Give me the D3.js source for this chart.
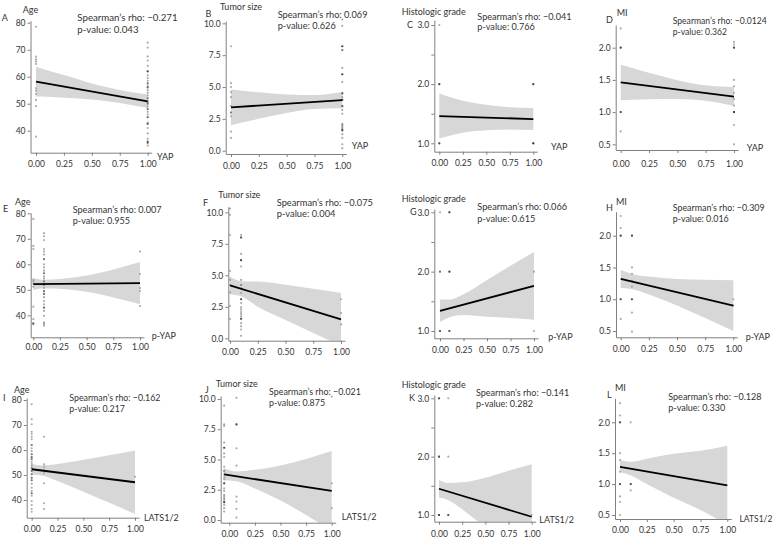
<!DOCTYPE html>
<html><head><meta charset="utf-8">
<script src="https://cdn.jsdelivr.net/npm/d3@7"></script>
<style>
body{margin:0;background:#fff}
svg{display:block}
text{font-family:Lato,"Open Sans",sans-serif}
</style>
</head><body>
<svg id="c" width="773" height="546"></svg>
<script>
// ---------------- DATA ----------------
const panelLetters = ["A","B","C","D","E","F","G","H","I","J","K","L"];
const outcomeTitles = ["Age","Tumor size","Histologic grade","MI","Age","Tumor size","Histologic grade","MI","Age","Tumor size","Histologic grade","MI"];
const predictorTitles = ["YAP","YAP","YAP","YAP","p-YAP","","p-YAP","p-YAP","LATS1/2","LATS1/2","LATS1/2","LATS1/2"];
const rhoValues = ["\u22120.271","0.069","\u22120.041","\u22120.0124","0.007","\u22120.075","0.066","\u22120.309","\u22120.162","\u22120.021","\u22120.141","\u22120.128"];
const pValues = ["0.043","0.626","0.766","0.362","0.955","0.004","0.615","0.016","0.217","0.875","0.282","0.330"];

const xTicks = [0, 0.25, 0.5, 0.75, 1];
const ageTicks = [40, 50, 60, 70, 80];
const sizeTicks = [0, 2.5, 5, 7.5, 10];
const gradeTicks = [1, 1.5, 2, 2.5, 3];
const gradeLabelled = [1, 2, 3];
const miTicks = [0.5, 1, 1.5, 2];

const bandX = [0, 0.1, 0.25, 0.5, 0.75, 1];
const bandXJ = [-0.05, 0.07, 0.25, 0.5, 0.75, 1];

// points: [x, [y values]]  (repeated values = overlapping points)
const pointsA = [[0,[78.5,67.4,66.4,65.6,64.7,55.7,54.8,53.6,51.4,49.1,37.8]],
  [1,[72.6,70.8,67.5,66,64,62,62,62,60.5,59.5,58.5,57.5,57.5,56.5,56,56,55,54,53,52,52,51,50.5,50,50,49,48,48,47,46,45,45,43,42.5,42.5,41,39,37,36,36,35.5,35.5,34.5]]];
const pointsB = [[0,[8.2,5.3,5.0,4.6,4.2,3.5,3.0,3.0,2.7,1.5,1.0]],
  [1,[10.3,9.8,8.2,8.2,8.2,7.9,7.9,6.5,6.0,6.0,6.0,5.4,4.5,4.5,4.5,4.2,4.0,4.0,4.0,3.5,3.5,3.5,3.2,2.9,2.1,2.0,1.9,1.8,1.7,1.6,1.6,1.6,1.3,1.0,0.5,0.2]]];
const pointsC = [[0,[3,2,2,2,1,1,1]],[1,[2,2,2,1,1,1,1]]];
const pointsD = [[0,[2.3,2,2,2,1,1,1,0.7]],[1,[2.09,2.05,2,2,2,1.5,1.4,1.3,1.2,1.1,1,1,1,1,0.8,0.5]]];
const pointsE = [[0,[77.8,67.2,66,54,53.4,52.5,51.2,43.4,38.5,36.8,36.8,36.5]],
  [0.1,[72.2,71,69.5,66,65,63.8,62,62,60,58.8,57.5,56.5,56.5,55.3,54.4,53.3,53.3,52,52,52,50.7,49.5,49.5,48.4,48.4,47.1,45.6,44.3,43,43,41.7,39.8,37.2,36.6,35.9]],
  [1,[65,56.2,50.7,49.5,43.6]]];
const pointsF = [[0,[10.3,9.8,8.2,5.34,4.63,4.23,3.65,2.56,1.53]],
  [0.1,[8.2,8.0,8.0,8.0,6.7,6.2,6.2,6.2,5.7,4.63,4.23,4.23,3.97,3.6,3.1,3.1,3.1,2.8,2.45,2.27,2.08,1.92,1.74,1.55,1.55,1.55,1.2,0.95,0.7,0.2]],
  [1,[3.1,2.0,1.1]]];
const pointsG = [[0,[3,2,2,1,1,1]],[0.1,[3,3,3,2,2,2,1,1,1]],[1,[2,1]]];
const pointsH = [[0,[2.31,2.12,2,2,2,1,1,1,0.69]],[0.1,[2,2,2,1.5,1.4,1.29,1.2,1,1,1,0.79,0.49]],[1,[1,0.9]]];
const pointsI = [[0,[78.3,72.3,70.3,67.3,66.4,65.3,64.3,62,62,60.7,59.6,58.3,58.3,57.2,57.2,56.4,56.4,55.3,54.4,53.6,52.7,52.7,51.6,51.6,50.3,50.3,48.9,48.9,47.9,47.9,46.5,44.9,43.6,42.7,42.7,41.7,39.6,38,36.4,35.3]],
  [0.12,[65.3,54.3,53.3,52,50.7,46.7,38.7,36.4]],[1,[49.3]]];
const pointsJ = [[-0.05,[9.45,7.9,7.77,6.4,5.97,5.97,5.97,5.5,5.2,4.4,4.1,4.0,3.77,3.53,3.36,3.03,3.03,3.03,2.62,2.4,2.07,1.93,1.79,1.66,1.47,1.47,1.47,1.25,0.98,0.7]],
  [0.07,[10.1,7.9,7.9,7.9,5.92,4.49,1.93,1.52,0.92,0.2]],[1,[10.2,3.03,0.98]]];
const pointsK = [[0,[3,3,3,2,2,2,1,1,1,1]],[0.1,[3,2,1,1,1]],[1,[1]]];
const pointsL = [[0,[2.31,2.11,2,2,2,1.5,1.39,1.2,1,1,1,0.8,0.71,0.5]],[0.1,[2,1,1,1,0.9]]];

// fitted line endpoints (at first and last band x) and confidence band
const fitA = [58.2, 50.9],  upperA = [63.7,62.4,60.6,57.5,55.1,53.4],  lowerA = [52.7,52.6,52.2,51.6,50.3,48.4];
const fitB = [3.4, 3.97],   upperB = [4.80,4.71,4.58,4.42,4.38,4.61],  lowerB = [2.0,2.21,2.5,2.96,3.28,3.33];
const fitC = [1.46, 1.41],  upperC = [1.84,1.785,1.72,1.65,1.61,1.595], lowerC = [1.08,1.125,1.18,1.22,1.235,1.225];
const fitD = [1.46, 1.24],  upperD = [1.735,1.686,1.61,1.496,1.415,1.386], lowerD = [1.185,1.19,1.2,1.204,1.175,1.094];
const fitE = [52.2, 52.6],  upperE = [54.5,53.9,54.2,55.6,58.0,60.9],  lowerE = [49.9,50.6,50.4,49.2,47.0,44.3];
const fitF = [4.2, 1.5],    upperF = [4.9,4.53,4.5,4.25,3.93,3.6],     lowerF = [3.5,3.33,2.5,1.45,0.43,-0.6];
const fitG = [1.34, 1.76],  upperG = [1.53,1.53,1.62,1.86,2.1,2.33],   lowerG = [1.15,1.23,1.27,1.24,1.22,1.19];
const fitH = [1.32, 0.90],  upperH = [1.465,1.398,1.356,1.318,1.305,1.30], lowerH = [1.175,1.158,1.074,0.902,0.705,0.50];
const fitI = [52.3, 47.1],  upperI = [54.5,53.8,54.4,56.1,57.9,59.8],  lowerI = [50.1,49.8,47.6,43.3,38.9,34.4];
const fitJ = [3.77, 2.40],  upperJ = [4.25,4.01,4.15,4.51,5.05,5.7],   lowerJ = [3.29,3.21,2.61,1.61,0.41,-0.9];
const fitK = [1.45, 0.97],  upperK = [1.60,1.55,1.56,1.64,1.76,1.87],  lowerK = [1.30,1.254,1.10,0.78,0.42,0.07];
const fitL = [1.28, 0.98],  upperL = [1.39,1.36,1.41,1.49,1.54,1.62],  lowerL = [1.19,1.14,1.00,0.78,0.58,0.34];

// ---------------- LAYOUT (pixels) ----------------
const layout = [
 {ax:30.5, x0:36, x1:147.7, xy:152.7, yt:20.7, yRef:[40,80], yPx:[130.7,22.7], xl:164, xt:[157,157], yT:[22.7,10], lt:[1.7,18], st:[77.3,18,30], sf:9.7},
 {ax:225.7, x0:231, x1:342.3, xy:154, yt:21, yRef:[0,10], yPx:[150.7,23.3], xl:165.7, xt:[351.7,145.7], yT:[220,7.3], lt:[205.5,13.5], st:[277.7,15,26], sf:9.2},
 {ax:434.3, x0:439.3, x1:533.3, xy:151.7, yt:20, yRef:[1,3], yPx:[143.3,25], xl:163.3, xt:[551,146.7], yT:[401.7,11.7], lt:[407,25], st:[477.3,17.3,27], sf:9.1},
 {ax:615.7, x0:620.7, x1:734, xy:150, yt:25, yRef:[0.5,2], yPx:[144.3,47.7], xl:164, xt:[746.7,148], yT:[616.7,13.3], lt:[606,20], st:[672.7,20.7,31.7], sf:8.6},
 {ax:30.7, x0:33.3, x1:140, xy:337.3, yt:213, yRef:[40,80], yPx:[315.3,213.3], xl:347.3, xt:[151.7,336], yT:[15,201.7], lt:[3,209.3], st:[72.7,210,220.7], sf:9.1},
 {ax:228.3, x0:230, x1:341, xy:340.7, yt:206.7, yRef:[0,10], yPx:[338.3,212.3], xl:352, xt:null, yT:[218.3,195], lt:[203,202.5], st:[276.7,202.3,214], sf:9.3},
 {ax:434.3, x0:440, x1:534, xy:338.3, yt:209, yRef:[1,3], yPx:[331,212.3], xl:350, xt:[548.3,337.3], yT:[401.7,199], lt:[410,211.7], st:[477.3,206.7,218.3], sf:9.2},
 {ax:616, x0:620.7, x1:733.3, xy:337.3, yt:211.7, yRef:[0.5,2], yPx:[331,235.7], xl:349, xt:[745.7,336.7], yT:[616,201.7], lt:[606,208.3], st:[672.7,208.3,219.3], sf:8.9},
 {ax:26.7, x0:31.7, x1:135, xy:517.7, yt:398, yRef:[40,80], yPx:[500,400], xl:529, xt:[144,517.7], yT:[14,390], lt:[3,398.3], st:[69.3,398,408.6], sf:8.8},
 {ax:220.7, x0:229.3, x1:331.7, xy:522.7, yt:396, yRef:[0,10], yPx:[520,399], xl:534.3, xt:[341.7,516.7], yT:[215.7,384.3], lt:[205,389.5], st:[269,392,403], sf:8.9},
 {ax:434.3, x0:439, x1:531.7, xy:521.7, yt:395, yRef:[1,3], yPx:[515,398.3], xl:534, xt:[539.3,520], yT:[401.7,385], lt:[409,398.3], st:[476,392.7,403.5], sf:9},
 {ax:615, x0:620, x1:727.3, xy:519, yt:398.3, yRef:[0.5,2], yPx:[515,422.3], xl:530, xt:[739.5,519], yT:[615,388.3], lt:[607,395], st:[668.3,396.7,407.5], sf:9}
];

const pointSets = [pointsA,pointsB,pointsC,pointsD,pointsE,pointsF,pointsG,pointsH,pointsI,pointsJ,pointsK,pointsL];
const fits = [fitA,fitB,fitC,fitD,fitE,fitF,fitG,fitH,fitI,fitJ,fitK,fitL];
const uppers = [upperA,upperB,upperC,upperD,upperE,upperF,upperG,upperH,upperI,upperJ,upperK,upperL];
const lowers = [lowerA,lowerB,lowerC,lowerD,lowerE,lowerF,lowerG,lowerH,lowerI,lowerJ,lowerK,lowerL];
const bandXs = [bandX,bandX,bandX,bandX,bandX,bandX,bandX,bandX,bandX,bandXJ,bandX,bandX];
const tickSets = [ageTicks,sizeTicks,gradeTicks,miTicks];

// ---------------- DRAW ----------------
const svg = d3.select("#c");
const FS = 9, TFS = 8.5;
const axisCol = "#808080";
const textCol = "#333";

layout.forEach((L, i) => {
  const kind = i % 4;
  const g = svg.append("g");

  const yS = d3.scaleLinear().domain(L.yRef).range(L.yPx);
  const y = d3.scaleLinear().domain([yS.invert(L.xy), yS.invert(L.yt)]).range([L.xy, L.yt]);
  const xS = d3.scaleLinear().domain([0,1]).range([L.x0, L.x1]);
  const xEnd = L.x1 + 4;
  const x = d3.scaleLinear().domain([xS.invert(L.ax), xS.invert(xEnd)]).range([L.ax, xEnd]);

  const cid = "clip" + i;
  svg.append("clipPath").attr("id", cid).append("rect")
    .attr("x", L.ax).attr("y", L.yt).attr("width", xEnd - L.ax).attr("height", L.xy - L.yt);

  // points
  const pts = [];
  pointSets[i].forEach(([gx, vals]) => vals.forEach(v => pts.push([gx, v])));
  g.append("g").selectAll("circle").data(pts).join("circle")
    .attr("cx", d => x(d[0])).attr("cy", d => y(d[1])).attr("r", 1.1)
    .attr("fill", "#000").attr("fill-opacity", 0.33);

  // band
  const bx = bandXs[i];
  const bandData = bx.map((xv, k) => ({x: xv, lo: lowers[i][k], hi: uppers[i][k]}));
  const area = d3.area().x(d => x(d.x)).y0(d => y(d.lo)).y1(d => y(d.hi)).curve(d3.curveMonotoneX);
  g.append("path").datum(bandData).attr("d", area)
    .attr("fill", "#a0a0a0").attr("fill-opacity", 0.42)
    .attr("clip-path", `url(#${cid})`);

  // fitted line
  const fitData = [[bx[0], fits[i][0]], [bx[bx.length-1], fits[i][1]]];
  g.append("path").datum(fitData)
    .attr("d", d3.line().x(d => x(d[0])).y(d => y(d[1])))
    .attr("stroke", "#000").attr("stroke-width", 1.8).attr("fill", "none")
    .attr("clip-path", `url(#${cid})`);

  // y axis
  let fmt;
  if (kind === 0) fmt = d3.format("d");
  else if (kind === 2) fmt = v => gradeLabelled.includes(v) ? d3.format(".1f")(v) : "";
  else fmt = d3.format(".1f");
  const yAxis = d3.axisLeft(y).tickValues(tickSets[kind]).tickFormat(fmt).tickSizeInner(3).tickSizeOuter(0).tickPadding(2);
  const ya = g.append("g").attr("transform", `translate(${L.ax},0)`).call(yAxis);

  // x axis
  const pad = L.xl - L.xy - 3 - 3.0;
  const xAxis = d3.axisBottom(x).tickValues(xTicks).tickFormat(d3.format(".2f")).tickSizeInner(3).tickSizeOuter(0).tickPadding(pad);
  const xa = g.append("g").attr("transform", `translate(0,${L.xy})`).call(xAxis);

  [ya, xa].forEach(a => {
    a.select(".domain").attr("stroke", axisCol).attr("stroke-width", 1);
    a.selectAll(".tick line").attr("stroke", axisCol);
    a.selectAll(".tick text").attr("fill", textCol).attr("font-size", TFS).attr("font-family", "Lato, 'Open Sans', sans-serif");
  });

  // titles
  const tx = (pos, str, size) => g.append("text").attr("x", pos[0]).attr("y", pos[1]).attr("dy", "0.35em")
      .attr("font-size", size).attr("fill", textCol).text(str);
  tx(L.yT, outcomeTitles[i], FS);
  tx(L.lt, panelLetters[i], FS);
  if (L.xt && predictorTitles[i]) tx(L.xt, predictorTitles[i], i === 11 ? 8.5 : FS);
  tx([L.st[0], L.st[1]], "Spearman\u2019s rho: " + rhoValues[i], L.sf);
  tx([L.st[0], L.st[2]], "p-value: " + pValues[i], L.sf);
});
</script>
</body></html>
